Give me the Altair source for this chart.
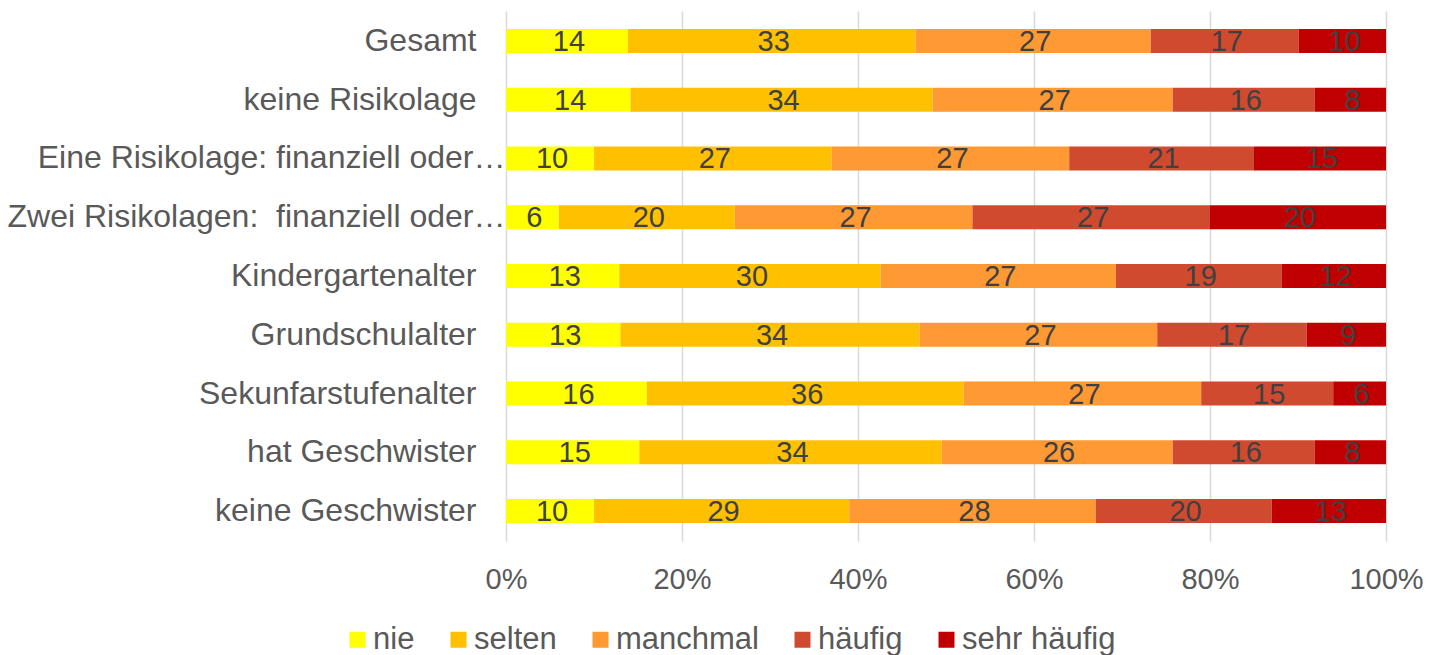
import altair as alt
import pandas as pd

groups = [
    "Gesamt",
    "keine Risikolage",
    "Eine Risikolage: finanziell oder…",
    "Zwei Risikolagen:\u00a0 finanziell oder…",
    "Kindergartenalter",
    "Grundschulalter",
    "Sekunfarstufenalter",
    "hat Geschwister",
    "keine Geschwister",
]
categories = ["nie", "selten", "manchmal", "häufig", "sehr häufig"]
colors = ["#FFFF00", "#FFC000", "#FF9933", "#D04A30", "#C00000"]

nie = [14, 14, 10, 6, 13, 13, 16, 15, 10]
selten = [33, 34, 27, 20, 30, 34, 36, 34, 29]
manchmal = [27, 27, 27, 27, 27, 27, 27, 26, 28]
haeufig = [17, 16, 21, 27, 19, 17, 15, 16, 20]
sehr_haeufig = [10, 8, 15, 20, 12, 9, 6, 8, 13]
series = [nie, selten, manchmal, haeufig, sehr_haeufig]

rows = []
for i, g in enumerate(groups):
    for j, c in enumerate(categories):
        rows.append({"group": g, "cat": c, "order": j, "value": series[j][i]})
df = pd.DataFrame(rows)

FONT = "Liberation Sans, Arial, sans-serif"

base = alt.Chart(df).transform_stack(
    stack="value",
    groupby=["group"],
    as_=["x0", "x1"],
    offset="normalize",
    sort=[alt.SortField("order", order="ascending")],
).transform_calculate(mid="(datum.x0 + datum.x1) / 2")

yscale = alt.Scale(paddingInner=0.593, paddingOuter=0.306)
axis_common = dict(
    labelFont=FONT, labelFontSize=32, labelColor="#595959",
    ticks=False, domain=False, labelLimit=0, orient="left", grid=False,
)
# normal category labels
y_main = alt.Y(
    "group:N", sort=groups, title=None, scale=yscale,
    axis=alt.Axis(
        labelPadding=30,
        labelExpr="indexof(datum.label, '…') >= 0 ? '' : datum.label",
        **axis_common,
    ),
)
# truncated labels: Excel lets their ellipsis run up to the bars
y_trunc = alt.Y(
    "group:N", sort=groups, title=None, scale=yscale,
    axis=alt.Axis(
        labelPadding=1,
        labelExpr="indexof(datum.label, '…') >= 0 ? datum.label : ''",
        **axis_common,
    ),
)

bars = base.mark_bar().encode(
    x=alt.X(
        "x0:Q",
        title=None,
        scale=alt.Scale(domain=[0, 1], nice=False),
        axis=alt.Axis(
            format="%", values=[0, 0.2, 0.4, 0.6, 0.8, 1.0],
            labelFont=FONT, labelFontSize=29, labelColor="#595959",
            ticks=False, domain=False, labelPadding=24, labelFlush=False,
            grid=True, gridColor="#D9D9D9", gridWidth=1.5,
        ),
    ),
    x2="x1:Q",
    y=y_main,
    color=alt.Color(
        "cat:N",
        sort=categories,
        scale=alt.Scale(domain=categories, range=colors),
        legend=alt.Legend(
            title=None, orient="none", direction="horizontal",
            legendX=-164, legendY=613, padding=0,
            symbolType="square", symbolSize=256,
            symbolStrokeWidth=0,
            labelFont=FONT, labelFontSize=31, labelColor="#595959",
            labelOffset=0, columnPadding=28,
        ),
    ),
    order=alt.Order("order:Q"),
)

labels = base.mark_text(
    font=FONT, fontSize=29, color="#404040", baseline="middle", dy=1, dx=2,
).encode(
    x=alt.X("mid:Q"),
    y=y_trunc,
    text=alt.Text("value:Q"),
)

chart = alt.layer(bars, labels).resolve_axis(y="independent").properties(
    width=880,
    height=530,
    autosize=alt.AutoSizeParams(type="none"),
    padding={"left": 498, "top": 3, "right": 37, "bottom": 114},
).configure_view(stroke=None)

chart.save("out.html", embed_options={"renderer": "svg", "actions": False})
